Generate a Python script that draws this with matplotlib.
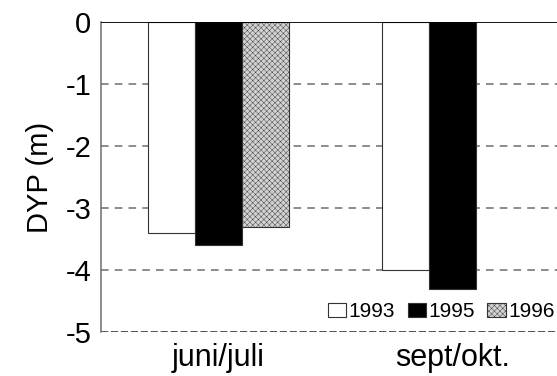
import numpy as np
import matplotlib.pyplot as plt

plt.rcParams['font.family'] = ['Liberation Sans', 'DejaVu Sans']
plt.rcParams['hatch.color'] = '#b4b4b4'
plt.rcParams['hatch.linewidth'] = 0.3
plt.rcParams['axes.unicode_minus'] = False

periods = ['juni/juli', 'sept/okt.']
years = ['1993', '1995', '1996']
dyp = {
    '1993': [-3.4, -4.0],
    '1995': [-3.6, -4.3],
    '1996': [-3.3, np.nan],
}
colors = {'1993': 'white', '1995': 'black', '1996': '#d2d2d2'}
hatches = {'1993': None, '1995': None, '1996': 'xxxxxx'}

fig = plt.figure(figsize=(5.57, 3.76), dpi=100)
ax = fig.add_axes([0.1813, 0.117, 0.8187, 0.8245])

x = np.arange(len(periods))
w = 0.2
for i, yr in enumerate(years):
    ax.bar(x + (i - 1) * w, dyp[yr], width=w, color=colors[yr],
           edgecolor='#333333', linewidth=0.8, hatch=hatches[yr],
           label=yr, zorder=3)

# dashed reference lines
for yv in [-1, -2, -3, -4]:
    ax.axhline(yv, color='#6e6e6e', linestyle=(0, (5, 4)), linewidth=1.1, zorder=1)
ax.axhline(-5, color='#444444', linestyle=(0, (4, 1.5)), linewidth=1.3, zorder=1)
ax.axhline(0, color='black', linewidth=1.3, zorder=4)

ax.set_xlim(-0.502, 1.447)
ax.set_ylim(-5, 0)
ax.set_yticks([0, -1, -2, -3, -4, -5])
ax.set_xticks(x)
ax.set_xticklabels(periods)
ax.tick_params(axis='y', length=0, labelsize=21, pad=7)
ax.tick_params(axis='x', length=0, labelsize=22, pad=8)

for s in ['top', 'right', 'bottom']:
    ax.spines[s].set_visible(False)
ax.spines['left'].set_color('#6e6e6e')
ax.spines['left'].set_linewidth(1.1)

ax.set_ylabel('DYP (m)', fontsize=21, labelpad=8)

ax.legend(loc='center right', bbox_to_anchor=(0.995, 0.065), ncol=3, frameon=False,
          fontsize=15, handlelength=0.9, handleheight=0.6, handletextpad=0.1,
          columnspacing=0.6, borderaxespad=0, borderpad=0)

fig.savefig('out.png', dpi=100)
